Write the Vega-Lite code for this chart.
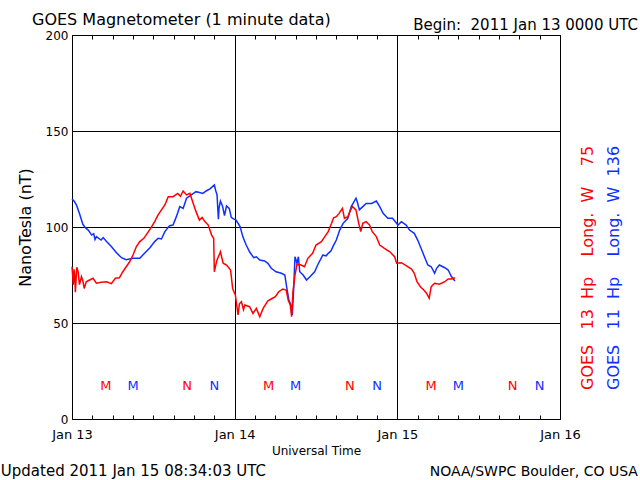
{
  "$schema": "https://vega.github.io/schema/vega-lite/v6.json",
  "width": 488,
  "height": 384,
  "autosize": {"type": "none"},
  "padding": {"left": 72, "top": 35, "right": 80, "bottom": 61},
  "background": "white",
  "config": {
    "view": {"stroke": "black", "strokeWidth": 1},
    "axis": {"labelFont": "DejaVu Sans", "titleFont": "DejaVu Sans", "labelColor": "black", "titleColor": "black", "titleFontWeight": "normal", "gridColor": "black", "gridOpacity": 1, "gridWidth": 1, "tickColor": "black"},
    "text": {"font": "DejaVu Sans"}
  },
  "resolve": {"axis": {"x": "independent", "y": "independent"}},
  "datasets": {
    "series": [
      {"t":0.0,"v":114.6,"s":"GOES 11"},{"t":0.3,"v":113.5,"s":"GOES 11"},{"t":0.65,"v":111.5,"s":"GOES 11"},{"t":1.1,"v":107,"s":"GOES 11"},{"t":1.6,"v":101.4,"s":"GOES 11"},{"t":2.0,"v":99.5,"s":"GOES 11"},{"t":2.4,"v":98.4,"s":"GOES 11"},{"t":2.9,"v":95.8,"s":"GOES 11"},{"t":3.2,"v":96.5,"s":"GOES 11"},{"t":3.4,"v":93.5,"s":"GOES 11"},{"t":3.6,"v":95,"s":"GOES 11"},{"t":4.3,"v":93.2,"s":"GOES 11"},{"t":4.6,"v":94.5,"s":"GOES 11"},{"t":5.1,"v":92.4,"s":"GOES 11"},{"t":5.8,"v":89.8,"s":"GOES 11"},{"t":6.5,"v":86.8,"s":"GOES 11"},{"t":7.3,"v":84.0,"s":"GOES 11"},{"t":8.0,"v":83.0,"s":"GOES 11"},{"t":9.0,"v":83.7,"s":"GOES 11"},{"t":10.0,"v":83.7,"s":"GOES 11"},{"t":10.7,"v":86.3,"s":"GOES 11"},{"t":11.5,"v":89.2,"s":"GOES 11"},{"t":12.2,"v":92.4,"s":"GOES 11"},{"t":12.7,"v":94.1,"s":"GOES 11"},{"t":13.2,"v":93.75,"s":"GOES 11"},{"t":13.7,"v":97.6,"s":"GOES 11"},{"t":14.4,"v":100.7,"s":"GOES 11"},{"t":14.9,"v":101,"s":"GOES 11"},{"t":15.4,"v":105.4,"s":"GOES 11"},{"t":15.9,"v":110.6,"s":"GOES 11"},{"t":16.4,"v":109.7,"s":"GOES 11"},{"t":16.9,"v":115,"s":"GOES 11"},{"t":17.6,"v":116.7,"s":"GOES 11"},{"t":18.3,"v":118.4,"s":"GOES 11"},{"t":18.8,"v":118,"s":"GOES 11"},{"t":19.3,"v":117.5,"s":"GOES 11"},{"t":19.8,"v":118.75,"s":"GOES 11"},{"t":20.4,"v":120,"s":"GOES 11"},{"t":21.0,"v":121.9,"s":"GOES 11"},{"t":21.2,"v":119,"s":"GOES 11"},{"t":21.4,"v":116.7,"s":"GOES 11"},{"t":21.6,"v":104,"s":"GOES 11"},{"t":21.7,"v":110,"s":"GOES 11"},{"t":21.9,"v":113.5,"s":"GOES 11"},{"t":22.2,"v":111,"s":"GOES 11"},{"t":22.5,"v":106,"s":"GOES 11"},{"t":22.8,"v":111,"s":"GOES 11"},{"t":23.2,"v":109.7,"s":"GOES 11"},{"t":23.5,"v":105,"s":"GOES 11"},{"t":23.7,"v":104.5,"s":"GOES 11"},{"t":24.2,"v":103.6,"s":"GOES 11"},{"t":24.8,"v":100.2,"s":"GOES 11"},{"t":25.2,"v":95,"s":"GOES 11"},{"t":25.7,"v":90.6,"s":"GOES 11"},{"t":26.2,"v":87.1,"s":"GOES 11"},{"t":26.8,"v":84,"s":"GOES 11"},{"t":27.2,"v":84.5,"s":"GOES 11"},{"t":27.7,"v":82.8,"s":"GOES 11"},{"t":28.4,"v":82.3,"s":"GOES 11"},{"t":28.9,"v":81.1,"s":"GOES 11"},{"t":29.4,"v":78.5,"s":"GOES 11"},{"t":30.1,"v":76.7,"s":"GOES 11"},{"t":30.9,"v":75.9,"s":"GOES 11"},{"t":31.4,"v":75,"s":"GOES 11"},{"t":31.7,"v":68,"s":"GOES 11"},{"t":32.0,"v":62,"s":"GOES 11"},{"t":32.4,"v":58.5,"s":"GOES 11"},{"t":32.5,"v":54.2,"s":"GOES 11"},{"t":32.7,"v":67.2,"s":"GOES 11"},{"t":32.9,"v":84.5,"s":"GOES 11"},{"t":33.2,"v":81.1,"s":"GOES 11"},{"t":33.4,"v":84.5,"s":"GOES 11"},{"t":33.6,"v":76.7,"s":"GOES 11"},{"t":34.1,"v":75,"s":"GOES 11"},{"t":34.6,"v":72.4,"s":"GOES 11"},{"t":35.1,"v":74.1,"s":"GOES 11"},{"t":35.8,"v":76.7,"s":"GOES 11"},{"t":36.3,"v":80.6,"s":"GOES 11"},{"t":37.0,"v":85.4,"s":"GOES 11"},{"t":37.5,"v":85,"s":"GOES 11"},{"t":37.8,"v":86.3,"s":"GOES 11"},{"t":38.2,"v":87.5,"s":"GOES 11"},{"t":38.5,"v":89.8,"s":"GOES 11"},{"t":39.0,"v":93.2,"s":"GOES 11"},{"t":39.5,"v":98.4,"s":"GOES 11"},{"t":40.0,"v":101.9,"s":"GOES 11"},{"t":40.7,"v":104.5,"s":"GOES 11"},{"t":41.2,"v":110.6,"s":"GOES 11"},{"t":41.9,"v":115,"s":"GOES 11"},{"t":42.1,"v":113,"s":"GOES 11"},{"t":42.4,"v":108.9,"s":"GOES 11"},{"t":42.9,"v":110.6,"s":"GOES 11"},{"t":43.4,"v":112.3,"s":"GOES 11"},{"t":44.2,"v":112.3,"s":"GOES 11"},{"t":44.9,"v":113.5,"s":"GOES 11"},{"t":45.4,"v":110.6,"s":"GOES 11"},{"t":45.9,"v":107.1,"s":"GOES 11"},{"t":46.6,"v":104.5,"s":"GOES 11"},{"t":47.3,"v":104.5,"s":"GOES 11"},{"t":48.1,"v":101,"s":"GOES 11"},{"t":48.6,"v":102.8,"s":"GOES 11"},{"t":49.3,"v":101,"s":"GOES 11"},{"t":49.8,"v":98.4,"s":"GOES 11"},{"t":50.5,"v":96.7,"s":"GOES 11"},{"t":51.0,"v":93.2,"s":"GOES 11"},{"t":51.5,"v":88.9,"s":"GOES 11"},{"t":52.0,"v":84.5,"s":"GOES 11"},{"t":52.5,"v":80.2,"s":"GOES 11"},{"t":53.0,"v":79.3,"s":"GOES 11"},{"t":53.5,"v":75.9,"s":"GOES 11"},{"t":53.8,"v":78.5,"s":"GOES 11"},{"t":54.2,"v":80.2,"s":"GOES 11"},{"t":55.0,"v":78.8,"s":"GOES 11"},{"t":55.5,"v":77.6,"s":"GOES 11"},{"t":56.0,"v":74.1,"s":"GOES 11"},{"t":56.5,"v":71.9,"s":"GOES 11"},
      {"t":0.0,"v":79.3,"s":"GOES 13"},{"t":0.2,"v":70,"s":"GOES 13"},{"t":0.3,"v":78,"s":"GOES 13"},{"t":0.4,"v":75,"s":"GOES 13"},{"t":0.5,"v":66,"s":"GOES 13"},{"t":0.7,"v":79,"s":"GOES 13"},{"t":0.9,"v":76.7,"s":"GOES 13"},{"t":1.1,"v":70,"s":"GOES 13"},{"t":1.4,"v":74.1,"s":"GOES 13"},{"t":1.6,"v":72,"s":"GOES 13"},{"t":1.8,"v":68,"s":"GOES 13"},{"t":2.1,"v":71.5,"s":"GOES 13"},{"t":2.6,"v":72.4,"s":"GOES 13"},{"t":3.1,"v":73.3,"s":"GOES 13"},{"t":3.6,"v":70.7,"s":"GOES 13"},{"t":4.3,"v":71.2,"s":"GOES 13"},{"t":5.1,"v":71.5,"s":"GOES 13"},{"t":5.8,"v":70.5,"s":"GOES 13"},{"t":6.4,"v":73.3,"s":"GOES 13"},{"t":7.0,"v":73.6,"s":"GOES 13"},{"t":7.5,"v":76.7,"s":"GOES 13"},{"t":8.0,"v":79.3,"s":"GOES 13"},{"t":8.5,"v":81.9,"s":"GOES 13"},{"t":9.0,"v":85.4,"s":"GOES 13"},{"t":9.5,"v":89.8,"s":"GOES 13"},{"t":10.0,"v":92.4,"s":"GOES 13"},{"t":10.6,"v":94.1,"s":"GOES 13"},{"t":11.1,"v":96.7,"s":"GOES 13"},{"t":11.6,"v":99.3,"s":"GOES 13"},{"t":12.2,"v":102.8,"s":"GOES 13"},{"t":12.7,"v":106.3,"s":"GOES 13"},{"t":13.2,"v":108.9,"s":"GOES 13"},{"t":13.7,"v":111.5,"s":"GOES 13"},{"t":14.2,"v":115.8,"s":"GOES 13"},{"t":14.9,"v":115.8,"s":"GOES 13"},{"t":15.6,"v":117.5,"s":"GOES 13"},{"t":16.0,"v":116,"s":"GOES 13"},{"t":16.4,"v":118.75,"s":"GOES 13"},{"t":16.9,"v":116.7,"s":"GOES 13"},{"t":17.4,"v":117.5,"s":"GOES 13"},{"t":17.8,"v":113.2,"s":"GOES 13"},{"t":18.3,"v":108,"s":"GOES 13"},{"t":18.8,"v":103.6,"s":"GOES 13"},{"t":19.2,"v":105,"s":"GOES 13"},{"t":19.6,"v":102.8,"s":"GOES 13"},{"t":20.1,"v":101,"s":"GOES 13"},{"t":20.6,"v":95.8,"s":"GOES 13"},{"t":20.9,"v":94.1,"s":"GOES 13"},{"t":21.0,"v":76.7,"s":"GOES 13"},{"t":21.2,"v":80,"s":"GOES 13"},{"t":21.4,"v":82.8,"s":"GOES 13"},{"t":21.9,"v":87.1,"s":"GOES 13"},{"t":22.3,"v":81.1,"s":"GOES 13"},{"t":22.8,"v":80.2,"s":"GOES 13"},{"t":23.4,"v":77.6,"s":"GOES 13"},{"t":23.7,"v":68,"s":"GOES 13"},{"t":24.1,"v":64.6,"s":"GOES 13"},{"t":24.5,"v":54.2,"s":"GOES 13"},{"t":24.7,"v":60,"s":"GOES 13"},{"t":25.0,"v":61.1,"s":"GOES 13"},{"t":25.3,"v":57,"s":"GOES 13"},{"t":25.5,"v":59.4,"s":"GOES 13"},{"t":26.2,"v":58.5,"s":"GOES 13"},{"t":26.7,"v":55,"s":"GOES 13"},{"t":27.2,"v":57.6,"s":"GOES 13"},{"t":27.7,"v":53.3,"s":"GOES 13"},{"t":28.2,"v":57.6,"s":"GOES 13"},{"t":28.9,"v":61.5,"s":"GOES 13"},{"t":29.4,"v":62.5,"s":"GOES 13"},{"t":30.0,"v":63.7,"s":"GOES 13"},{"t":30.5,"v":66.3,"s":"GOES 13"},{"t":31.1,"v":67.7,"s":"GOES 13"},{"t":31.6,"v":67.2,"s":"GOES 13"},{"t":31.9,"v":62,"s":"GOES 13"},{"t":32.2,"v":59.4,"s":"GOES 13"},{"t":32.4,"v":53.3,"s":"GOES 13"},{"t":32.6,"v":66.3,"s":"GOES 13"},{"t":32.9,"v":75,"s":"GOES 13"},{"t":33.2,"v":80.6,"s":"GOES 13"},{"t":33.8,"v":80.2,"s":"GOES 13"},{"t":34.3,"v":79.3,"s":"GOES 13"},{"t":34.8,"v":83.7,"s":"GOES 13"},{"t":35.5,"v":86.3,"s":"GOES 13"},{"t":36.0,"v":90.6,"s":"GOES 13"},{"t":36.8,"v":92.4,"s":"GOES 13"},{"t":37.3,"v":95,"s":"GOES 13"},{"t":37.8,"v":97.6,"s":"GOES 13"},{"t":38.3,"v":101.9,"s":"GOES 13"},{"t":38.6,"v":104.8,"s":"GOES 13"},{"t":39.0,"v":105.4,"s":"GOES 13"},{"t":39.4,"v":107.1,"s":"GOES 13"},{"t":39.9,"v":109.7,"s":"GOES 13"},{"t":40.2,"v":104.5,"s":"GOES 13"},{"t":40.7,"v":105.4,"s":"GOES 13"},{"t":41.1,"v":108.9,"s":"GOES 13"},{"t":41.4,"v":110.6,"s":"GOES 13"},{"t":41.9,"v":108.9,"s":"GOES 13"},{"t":42.3,"v":101.9,"s":"GOES 13"},{"t":42.6,"v":97.6,"s":"GOES 13"},{"t":42.9,"v":101.9,"s":"GOES 13"},{"t":43.4,"v":102.8,"s":"GOES 13"},{"t":43.9,"v":101,"s":"GOES 13"},{"t":44.3,"v":97.6,"s":"GOES 13"},{"t":44.9,"v":95,"s":"GOES 13"},{"t":45.4,"v":90.6,"s":"GOES 13"},{"t":46.1,"v":88.9,"s":"GOES 13"},{"t":46.9,"v":87.1,"s":"GOES 13"},{"t":47.6,"v":84.5,"s":"GOES 13"},{"t":47.9,"v":81.1,"s":"GOES 13"},{"t":48.6,"v":81.4,"s":"GOES 13"},{"t":49.3,"v":79.9,"s":"GOES 13"},{"t":50.1,"v":78.1,"s":"GOES 13"},{"t":50.5,"v":75.9,"s":"GOES 13"},{"t":50.9,"v":71.5,"s":"GOES 13"},{"t":51.4,"v":68.9,"s":"GOES 13"},{"t":51.9,"v":67.2,"s":"GOES 13"},{"t":52.3,"v":65.5,"s":"GOES 13"},{"t":52.7,"v":62.9,"s":"GOES 13"},{"t":53.0,"v":68.9,"s":"GOES 13"},{"t":53.5,"v":70.7,"s":"GOES 13"},{"t":54.2,"v":70.2,"s":"GOES 13"},{"t":55.0,"v":71.5,"s":"GOES 13"},{"t":55.5,"v":72.9,"s":"GOES 13"},{"t":56.0,"v":72.9,"s":"GOES 13"},{"t":56.5,"v":73.6,"s":"GOES 13"}
    ],
    "markers": [
      {"t":5,"lab":"M","s":"GOES 13"},{"t":9,"lab":"M","s":"GOES 11"},{"t":17,"lab":"N","s":"GOES 13"},{"t":21,"lab":"N","s":"GOES 11"},
      {"t":29,"lab":"M","s":"GOES 13"},{"t":33,"lab":"M","s":"GOES 11"},{"t":41,"lab":"N","s":"GOES 13"},{"t":45,"lab":"N","s":"GOES 11"},
      {"t":53,"lab":"M","s":"GOES 13"},{"t":57,"lab":"M","s":"GOES 11"},{"t":65,"lab":"N","s":"GOES 13"},{"t":69,"lab":"N","s":"GOES 11"}
    ],
    "one": [{}]
  },
  "layer": [
    {
      "data": {"name": "series"},
      "mark": {"type": "line", "strokeWidth": 1.5},
      "encoding": {
        "x": {"field": "t", "type": "quantitative", "scale": {"domain": [0, 72], "nice": false, "zero": false},
          "axis": {"orient": "bottom", "values": [0,3,6,9,12,15,18,21,24,27,30,33,36,39,42,45,48,51,54,57,60,63,66,69,72],
            "labelExpr": "datum.value % 24 == 0 ? 'Jan ' + (13 + datum.value / 24) : ''",
            "labelFontSize": 13, "labelPadding": 13, "labelFlush": false, "labelOverlap": false,
            "tickSize": -4, "tickWidth": 1,
            "grid": true, "gridOpacity": {"condition": {"test": "datum.value % 24 == 0", "value": 1}, "value": 0},
            "domain": false, "title": "Universal Time", "titleFontSize": 12, "titlePadding": 4}},
        "y": {"field": "v", "type": "quantitative", "scale": {"domain": [0, 200], "nice": false, "zero": false},
          "axis": {"orient": "left", "values": [0, 50, 100, 150, 200], "ticks": false, "domain": false, "grid": true,
            "labelFontSize": 12, "labelPadding": 4, "title": "NanoTesla (nT)", "titleFontSize": 16, "titlePadding": 12}},
        "color": {"field": "s", "type": "nominal", "scale": {"domain": ["GOES 13", "GOES 11"], "range": ["#ff0000", "#1030ff"]}, "legend": null},
        "detail": {"field": "s"}
      }
    },
    {
      "data": {"name": "markers"},
      "mark": {"type": "text", "fontSize": 13, "baseline": "middle", "align": "center"},
      "encoding": {
        "x": {"field": "t", "type": "quantitative",
          "axis": {"orient": "top", "values": [3,6,9,12,15,18,21,27,30,33,36,39,42,45,51,54,57,60,63,66,69],
            "labels": false, "tickSize": -4, "tickWidth": 1, "grid": false, "domain": false, "title": null}},
        "y": {"datum": 17.3, "type": "quantitative", "axis": null},
        "color": {"field": "s", "type": "nominal", "legend": null},
        "text": {"field": "lab"}
      }
    },
    {
      "data": {"name": "one"},
      "mark": {"type": "text", "fontSize": 16, "align": "left", "baseline": "alphabetic", "color": "black"},
      "encoding": {"x": {"datum": -5.9, "type": "quantitative", "axis": null}, "y": {"datum": 205.2, "type": "quantitative", "axis": null}, "text": {"value": "GOES Magnetometer (1 minute data)"}}
    },
    {
      "data": {"name": "one"},
      "mark": {"type": "text", "fontSize": 15, "align": "right", "baseline": "alphabetic", "color": "black"},
      "encoding": {"x": {"datum": 83.5, "type": "quantitative", "axis": null}, "y": {"datum": 202.6, "type": "quantitative", "axis": null}, "text": {"value": "Begin:\u00a0 2011 Jan 13 0000 UTC"}}
    },
    {
      "data": {"name": "one"},
      "mark": {"type": "text", "fontSize": 15, "align": "left", "baseline": "alphabetic", "color": "black"},
      "encoding": {"x": {"datum": -10.5, "type": "quantitative", "axis": null}, "y": {"datum": -29.7, "type": "quantitative", "axis": null}, "text": {"value": "Updated 2011 Jan 15 08:34:03 UTC"}}
    },
    {
      "data": {"name": "one"},
      "mark": {"type": "text", "fontSize": 14, "align": "right", "baseline": "alphabetic", "color": "black"},
      "encoding": {"x": {"datum": 83.5, "type": "quantitative", "axis": null}, "y": {"datum": -29.7, "type": "quantitative", "axis": null}, "text": {"value": "NOAA/SWPC Boulder, CO USA"}}
    },
    {
      "data": {"name": "one"},
      "mark": {"type": "text", "fontSize": 16, "align": "left", "baseline": "middle", "angle": 270, "color": "#ff0000"},
      "encoding": {"x": {"datum": 76.1, "type": "quantitative", "axis": null}, "y": {"datum": 15.1, "type": "quantitative", "axis": null}, "text": {"value": "GOES\u00a0\u00a0 13\u00a0 Hp\u00a0\u00a0\u00a0 Long.\u00a0 W\u00a0\u00a0\u00a0 75"}}
    },
    {
      "data": {"name": "one"},
      "mark": {"type": "text", "fontSize": 16, "align": "left", "baseline": "middle", "angle": 270, "color": "#1030ff"},
      "encoding": {"x": {"datum": 80.0, "type": "quantitative", "axis": null}, "y": {"datum": 15.1, "type": "quantitative", "axis": null}, "text": {"value": "GOES\u00a0\u00a0 11\u00a0 Hp\u00a0\u00a0\u00a0 Long.\u00a0 W\u00a0 136"}}
    }
  ]
}
